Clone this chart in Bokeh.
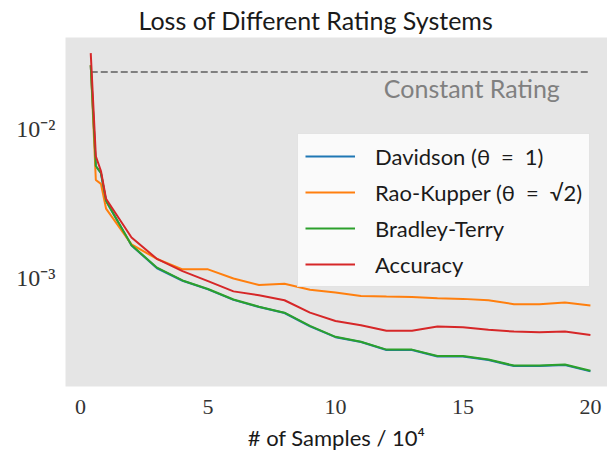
from bokeh.plotting import figure
from bokeh.models import Range1d, FixedTicker, CustomJSTickFormatter, Legend, LegendItem, Label
from bokeh.embed import file_html
from bokeh.resources import INLINE

# ---- data (x in units of 10^4 samples) ----
samples = [0.4, 0.6, 0.8, 1, 2, 3, 4, 5, 6, 7, 8, 9, 10, 11, 12, 13, 14, 15, 16, 17, 18, 19, 20]
davidson = [0.0270, 0.00565, 0.00507, 0.00330, 0.00165, 0.00116, 0.000955, 0.000835, 0.000710, 0.000635,
            0.000579, 0.000471, 0.000398, 0.000369, 0.000326, 0.000326, 0.000295, 0.000295, 0.000279,
            0.000254, 0.000254, 0.000258, 0.000234]
rao_kupper = [0.0272, 0.00457, 0.00430, 0.00293, 0.00168, 0.00134, 0.00114, 0.00114, 0.00099, 0.000894,
              0.000912, 0.000832, 0.000796, 0.000755, 0.000747, 0.000743, 0.000728, 0.000721, 0.000706,
              0.000664, 0.000664, 0.000681, 0.000651]
bradley_terry = [0.0271, 0.00567, 0.00509, 0.00331, 0.00166, 0.00117, 0.00096, 0.00084, 0.000714, 0.000638,
                 0.000582, 0.000474, 0.000400, 0.000371, 0.000328, 0.000328, 0.000297, 0.000297, 0.000281,
                 0.000256, 0.000256, 0.000260, 0.000236]
accuracy = [0.0327, 0.00660, 0.00525, 0.00341, 0.00187, 0.00134, 0.00111, 0.00095, 0.00081, 0.000762,
            0.000706, 0.000582, 0.000512, 0.000479, 0.000439, 0.000439, 0.000469, 0.000464, 0.000446,
            0.000434, 0.000430, 0.000434, 0.000412]
constant_rating = 0.0244
x_ticks = [0, 5, 10, 15, 20]
y_ticks = [0.001, 0.01]

series_names = ["Davidson (θ\u2002=\u20021)", "Rao-Kupper (θ\u2002=\u2002√2)", "Bradley-Terry", "Accuracy"]
series_colors = ["#1f77b4", "#ff7f0e", "#2ca02c", "#d62728"]

SANS = "Lato"
SERIF = "Liberation Serif"

p = figure(width=607, height=453, output_backend="svg", toolbar_location=None,
           y_axis_type="log",
           x_range=Range1d(-0.59, 20.67), y_range=Range1d(0.000185, 0.0417),
           min_border_left=65, min_border_right=0, min_border_top=35, min_border_bottom=65)
p.title.text = "Loss of Different Rating Systems"
p.title.text_font = SANS
p.title.text_font_size = "25px"
p.title.text_font_style = "normal"
p.title.text_color = "#1a1a1a"
p.title.align = "left"
p.title.offset = 73
p.title.standoff = 5

p.background_fill_color = "#e5e5e5"
p.border_fill_color = "white"
p.outline_line_color = None
p.xgrid.grid_line_color = None
p.ygrid.grid_line_color = None

# axes
p.xaxis.ticker = FixedTicker(ticks=x_ticks)
p.yaxis.ticker = FixedTicker(ticks=y_ticks, minor_ticks=[])
p.yaxis.formatter = CustomJSTickFormatter(code="""
const e = Math.round(Math.log10(tick));
const sup = {'-':'⁻','0':'⁰','1':'¹','2':'²','3':'³','4':'⁴','5':'⁵','6':'⁶','7':'⁷','8':'⁸','9':'⁹'};
return '10' + String(e).split('').map(c => sup[c]).join('');
""")
for ax in (p.xaxis, p.yaxis):
    ax.axis_line_color = None
    ax.major_tick_line_color = None
    ax.minor_tick_line_color = None
    ax.major_tick_out = 0
    ax.minor_tick_out = 0
    ax.major_label_text_font = SERIF
    ax.major_label_text_font_size = "22px"
    ax.major_label_text_color = "#333333"
p.yaxis.major_label_text_font_size = "24px"
p.xaxis.major_label_standoff = 13
p.yaxis.major_label_standoff = 10
p.xaxis.axis_label = "# of Samples / 10⁴"
p.xaxis.axis_label_text_font = SANS
p.xaxis.axis_label_text_font_size = "22px"
p.xaxis.axis_label_text_font_style = "normal"
p.xaxis.axis_label_text_color = "#1a1a1a"
p.xaxis.axis_label_standoff = 7

# constant rating reference
p.line([samples[0], samples[-1]], [constant_rating, constant_rating],
       line_color="#808080", line_width=2, line_dash="7 3")
p.add_layout(Label(x=18.8, y=constant_rating, text="Constant Rating", text_align="right",
                   text_baseline="middle", y_offset=-16, text_font=SANS, text_font_size="25px",
                   text_color="#808080"))

renderers = []
for vals, color in zip([davidson, rao_kupper, bradley_terry, accuracy], series_colors):
    r = p.line(samples, vals, line_color=color, line_width=2)
    renderers.append(r)

legend = Legend(items=[LegendItem(label=n, renderers=[r]) for n, r in zip(series_names, renderers)],
                location=(232, 99))
legend.label_text_font = SANS
legend.label_text_font_size = "22px"
legend.label_text_color = "#1a1a1a"
legend.glyph_width = 50
legend.glyph_height = 30
legend.label_height = 30
legend.spacing = 6
legend.padding = 7
legend.margin = 0
legend.label_standoff = 20
legend.background_fill_color = "white"
legend.background_fill_alpha = 0.8
legend.border_line_color = "#cccccc"
legend.border_line_width = 1
p.add_layout(legend)

open("out.html", "w").write(file_html(p, INLINE))
